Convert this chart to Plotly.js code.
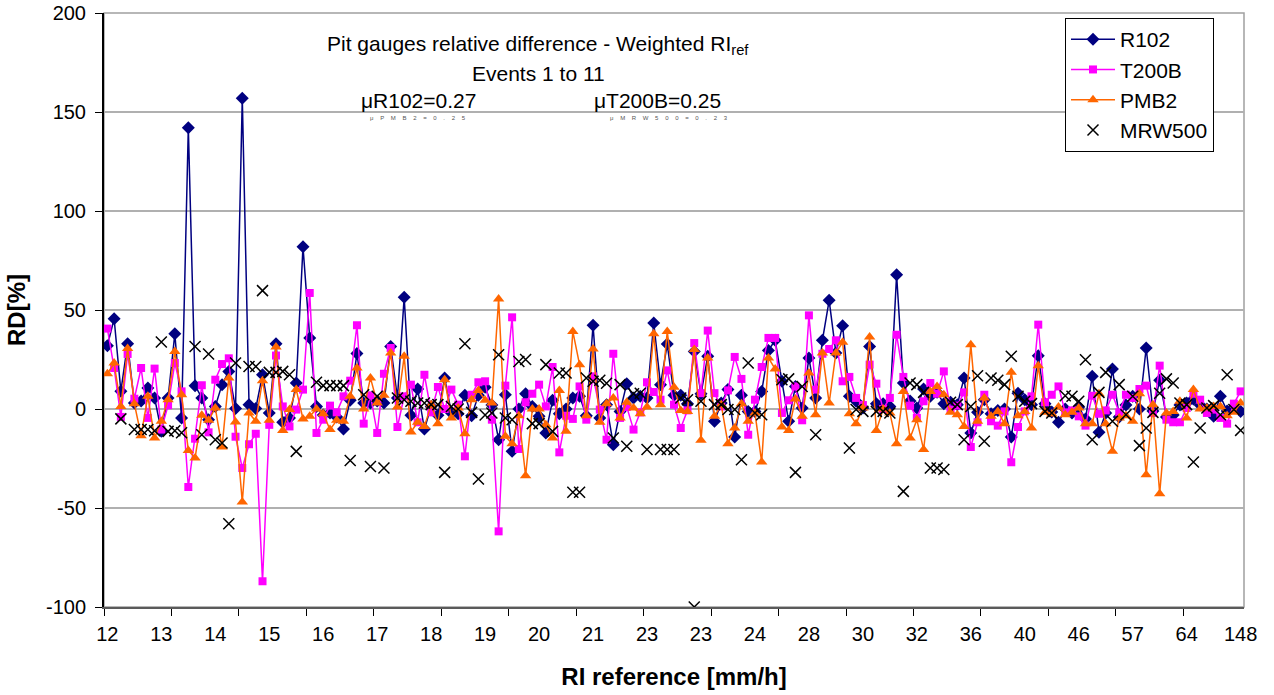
<!DOCTYPE html>
<html>
<head>
<meta charset="utf-8">
<script src="https://cdn.plot.ly/plotly-3.0.1.min.js"></script>
<style>html,body{margin:0;padding:0;background:#fff;}#chart{width:1274px;height:695px;}</style>
</head>
<body>
<div id="chart"></div>
<script>
// Category tick labels (RI reference, mm/h), one label every 8 categories
const tickLabels = ['12','13','14','15','16','17','18','19','20','21','23','23','24','28','30','32','36','40','46','57','64','148'];
const yTickVals = [-100, -50, 0, 50, 100, 150, 200];
const yTickText = ['-100', '-50', '0', '50', '100', '150', '200'];

const R102 = [32,45.6,9,33,3,4,10.6,5.6,-11.3,5.6,38,-4.5,142,11.8,5.6,-5.4,1.3,12.3,19,0.3,
157,2.2,0.3,17.3,-2,33,-6.7,-4.5,13.1,82,35.9,1.3,-3,-2,-4,-10.1,4.4,28,3,3,
4,3,31.6,5.6,56.4,-3.2,10.1,-10.1,1.3,-3.2,15.7,-2,-2.4,6.9,-3.4,6.9,11,2,-15.5,7.2,
-21.4,0,7.7,1.3,-3.7,-12.1,4.4,-2.4,0,5.6,6.4,-3.4,42.3,-4.5,2.2,-18,-1.2,12.8,5.6,6.4,
5.6,43.4,12.3,32.8,6.9,6.9,2.7,29.1,7.7,26.6,-6.2,3,9.8,-14.1,6.9,-1.2,-1.2,8.9,29.6,34.7,
14,-6.2,11.4,0.5,25.8,5.6,34.7,54.9,28.3,42.1,6.4,3.9,0.5,31.6,2.7,2.7,1.3,67.8,13.1,4,
0.5,10.1,6.4,8.4,2.7,3.4,2.2,15.7,-12.1,-1.7,4.7,-2.4,-0.7,0,-14.1,8,4.7,2.2,26.9,2.7,
-1.5,-6.7,0,-2,1,-5,16.5,-11.8,-2,20.2,-4,2,6.4,0,30.8,-1,14.5,-4,-3,2,
3,5,2,0,-3.7,6.4,-1,1,-1.2];

const T200B = [40.6,20.7,-4,27.8,5.2,20.7,-4.5,20.4,-10.4,1.9,23.2,8.9,-39.4,-15,12,-11.8,14.8,22.7,25.6,-14,
-29.8,-17.8,-12.5,-87,-8,27,1.3,-8.8,-0.3,9.8,58.6,-12.1,-5.4,1.7,-1.7,6.4,14.3,42.3,-7.4,6.9,
-12.1,17.8,30.8,-9.1,6.4,12.3,-6.7,17.3,-1.7,11.1,0,9.8,2.2,-23.9,7.2,13.5,14,-5.4,-61.8,11.8,
46.3,-20.2,3.4,7.7,12.3,1.3,21.2,-21.9,-3.4,-5,11.4,-5.4,16.5,-0.3,-15.5,27.9,-4.5,1,-10.4,-1.7,
13.5,8.6,4.7,19.5,2.2,-9.6,-0.7,33.3,8,39.6,8,1.3,9.4,26.3,15.2,-13,4.7,21.2,35.9,35.9,
-2,4.4,11.4,-5.7,47.3,9.8,27.9,30.3,34.7,14,16.2,5.6,2,22.4,12.8,0,5.6,37.5,16.2,1.7,
-4.5,3.9,13.1,7.7,19,-0.3,1.7,8.4,-19.2,-6.7,7.2,-6.2,-8.4,-1.2,-26.9,-9.1,-1.2,6.4,42.6,3.4,
7.2,11.4,-1.7,-0.7,-3.7,-8.4,6.7,-2.4,-0.7,7.2,-1.7,7.2,5.6,10.1,11.8,-2,21.9,-5.4,-6.7,-6.7,
0.5,7.7,4.7,-2,-0.3,-4.5,-7.4,2.7,8.9];

const PMB2 = [17.8,23.2,1.3,30.5,2.7,-13.5,6.4,-14.6,-6.2,4.7,29,7.2,-20.9,-24.7,-3.2,-5.7,0.5,-19.2,15.7,-6.6,
-47,-2,-6.2,14.3,-5.7,31.3,-10.8,-0.3,9.8,-5,-3.7,0,-2.4,-10.4,-5.7,-6.2,6.4,20.7,0,15.7,
3,6.9,28.3,1,26.6,-11.6,-6.7,-8.8,2.2,-7.4,14.8,-4.5,0.5,-12.5,4.7,9.4,4.4,3,55.6,-13.8,
-17.5,-3.4,-33.7,0,0,-7.9,-14.6,9.4,-11.3,39.2,22.4,-3.4,30.3,-6.7,2.7,5.6,-4.5,3.4,0.5,-2.4,
1,38,2.2,39.2,11,-0.7,-1.2,30,-15.8,25.8,-3.7,2.2,-17.5,-9.6,2.7,-6.2,-2,-26.8,25.8,20.2,
-9.1,-10.8,5,-3.7,18.2,-2.9,28.3,3,28.3,33.7,-2.4,-7.4,0.5,36.4,-10.8,0,-2,-17.5,8.9,-14.6,
-5.4,-20.5,8.9,11.4,7.2,-1.7,-2.9,-8.8,32.5,-6.2,5.6,-3.7,-1.2,-7.4,18.5,-3.4,-1.2,-9.6,21.9,-1.7,
-2.5,1,-2.9,-1.7,0.5,-7.4,-7.4,7.7,-7.4,-21.4,-4.5,-3.4,-6.2,7.7,-33.2,2.2,-42.8,-2,-1.2,3.9,
-4.5,9.8,0,0.5,1.3,1.3,-3.4,-1.7,3];

const MRW500 = [null,null,-5,null,-10.4,-10.4,-10.4,-11,33.8,-11.3,-11,-12,null,31.6,-13,27.8,-15.5,-17.2,-58,23.2,
null,21.5,21.5,59.8,18.5,18.5,19,17.3,-21.4,null,null,13.5,11.8,11.8,11.8,11.8,-26,null,7.2,-29,
6.4,-29.8,null,5.6,4.7,3.9,3,3,2.2,2.2,-32,1.3,0,33,-1.7,-35.4,-3,-2,27.4,-4.5,
-5.4,24,25,-7.4,-7.4,22.4,-11.3,18.2,18.2,-42,-42,15.7,14,14.5,13,-14.6,12.3,-18.8,7.7,8,
-20.5,null,-20.5,-20.5,-20.5,5.6,4.7,-100,3.9,null,2.2,2.2,-0.3,-0.3,-25.6,23.2,-2,-2.9,null,null,
14.8,15.2,-32,11.4,null,-13,null,null,null,null,-19.7,-0.3,-1.2,null,-1.2,-1.2,-2,null,-41.6,13.1,
12.3,8.4,-29.8,-29.8,-30.6,3.4,2.2,-15.5,1.3,16.8,-16.3,15.7,14.5,12.3,26.6,6.4,3.9,2.7,null,-1.2,
-2,null,6.7,6.4,3.9,24.9,-15.5,8.4,18.5,-6.2,12.3,-2.9,6.4,-18.5,-9.6,-1.7,8,15.2,13.1,3,
2.2,-26.8,-9.6,0.5,1.7,-2.9,17.3,-0.3,-10.8];

const seriesNames = ['R102','T200B','PMB2','MRW500'];
const subtitleMeans = ['μR102=0.27','μT200B=0.25'];
const tinyMeans = ['μPMB2=0.25','μMRW500=0.23'];

const NB = '\u00A0';
const spread = (s, n) => s.split('').join(NB.repeat(n));

const idx = R102.map((_, i) => i);
const tickVals = tickLabels.map((_, i) => i * 8);
const FONT = 'Liberation Sans, Arial, sans-serif';

const traces = [
  {x: idx, y: R102, name: seriesNames[0], type: 'scatter', mode: 'lines+markers', legendgroup: 'a',
   line: {color: '#000080', width: 1.5}, marker: {symbol: 'diamond', size: 10, color: '#000080'}},
  {x: idx, y: T200B, name: seriesNames[1], type: 'scatter', mode: 'lines+markers', legendgroup: 'b',
   line: {color: '#FF00FF', width: 1.5}, marker: {symbol: 'square', size: 8, color: '#FF00FF'}},
  {x: idx, y: PMB2, name: seriesNames[2], type: 'scatter', mode: 'lines+markers', legendgroup: 'c',
   line: {color: '#FF6600', width: 1.5}, marker: {symbol: 'triangle-up', size: 10, color: '#FF6600'}},
  {x: idx, y: MRW500, name: seriesNames[3], type: 'scatter', mode: 'markers', legendgroup: 'd',
   marker: {symbol: 'x-thin-open', size: 11, color: '#000000', line: {color: '#000000', width: 1.5}}}
];

const L = 104, T = 13, W = 1140, H = 594;
const px = v => (v - L) / W;
const py = v => (T + H - v) / H;

const layout = {
  width: 1274, height: 695,
  margin: {l: L, r: 1274 - L - W, t: T, b: 695 - T - H},
  paper_bgcolor: '#ffffff', plot_bgcolor: '#ffffff',
  font: {family: FONT, size: 20, color: '#000'},
  showlegend: true,
  legend: {x: px(1065), y: py(18), xanchor: 'left', yanchor: 'top', bgcolor: '#ffffff',
           bordercolor: '#000000', borderwidth: 1, font: {family: FONT, size: 21, color: '#000'},
           tracegroupgap: 0, itemwidth: 44},
  xaxis: {
    range: [-0.5, R102.length - 0.5], tickmode: 'array', tickvals: tickVals, ticktext: tickLabels,
    ticks: '', showgrid: false, zeroline: false, showline: true, linecolor: '#5a5a5a', linewidth: 2,
    tickfont: {family: FONT, size: 20}, ticklabelstandoff: 8,
    minor: {tick0: -0.5, dtick: 10, ticks: 'outside', ticklen: 7, tickcolor: '#000', tickwidth: 1, showgrid: false},
    title: {text: '<b>RI reference [mm/h]</b>', font: {family: FONT, size: 24}, standoff: 24}
  },
  yaxis: {
    range: [-100, 200], tickmode: 'array', tickvals: yTickVals, ticktext: yTickText,
    ticks: 'outside', ticklen: 7, tickcolor: '#000',
    showgrid: true, gridcolor: '#b0b0b0', gridwidth: 1.5, zeroline: false,
    showline: true, linecolor: '#000', linewidth: 2, tickfont: {family: FONT, size: 20},
    ticklabelstandoff: 5,
    title: {text: '<b>RD[%]</b>', font: {family: FONT, size: 24}, standoff: 14}
  },
  shapes: [
    {type: 'rect', xref: 'paper', yref: 'paper', x0: 0, x1: 1, y0: 0, y1: 1,
     line: {color: '#a0a0a0', width: 1.5}, layer: 'below'},
    {type: 'rect', xref: 'paper', yref: 'paper', x0: px(315), x1: px(763), y0: py(125), y1: py(26),
     fillcolor: '#ffffff', line: {width: 0}, layer: 'between'}
  ],
  annotations: [
    {xref: 'paper', yref: 'paper', x: px(538), y: py(45), text: 'Pit gauges relative difference - Weighted RI<sub>ref</sub>',
     showarrow: false, font: {family: FONT, size: 21}, xanchor: 'center', yanchor: 'middle'},
    {xref: 'paper', yref: 'paper', x: px(538), y: py(73), text: 'Events 1 to 11',
     showarrow: false, font: {family: FONT, size: 21}, xanchor: 'center', yanchor: 'middle'},
    {xref: 'paper', yref: 'paper', x: px(418), y: py(100), text: subtitleMeans[0],
     showarrow: false, font: {family: FONT, size: 21}, xanchor: 'center', yanchor: 'middle'},
    {xref: 'paper', yref: 'paper', x: px(657), y: py(100), text: subtitleMeans[1],
     showarrow: false, font: {family: FONT, size: 21}, xanchor: 'center', yanchor: 'middle'},
    {xref: 'paper', yref: 'paper', x: px(418), y: py(118), text: spread(tinyMeans[0], 4),
     showarrow: false, font: {family: FONT, size: 6, color: '#555'}, xanchor: 'center', yanchor: 'middle'},
    {xref: 'paper', yref: 'paper', x: px(669), y: py(118), text: spread(tinyMeans[1], 4),
     showarrow: false, font: {family: FONT, size: 6, color: '#555'}, xanchor: 'center', yanchor: 'middle'}
  ]
};

Plotly.newPlot('chart', traces, layout, {staticPlot: true, displayModeBar: false});
</script>
</body>
</html>
